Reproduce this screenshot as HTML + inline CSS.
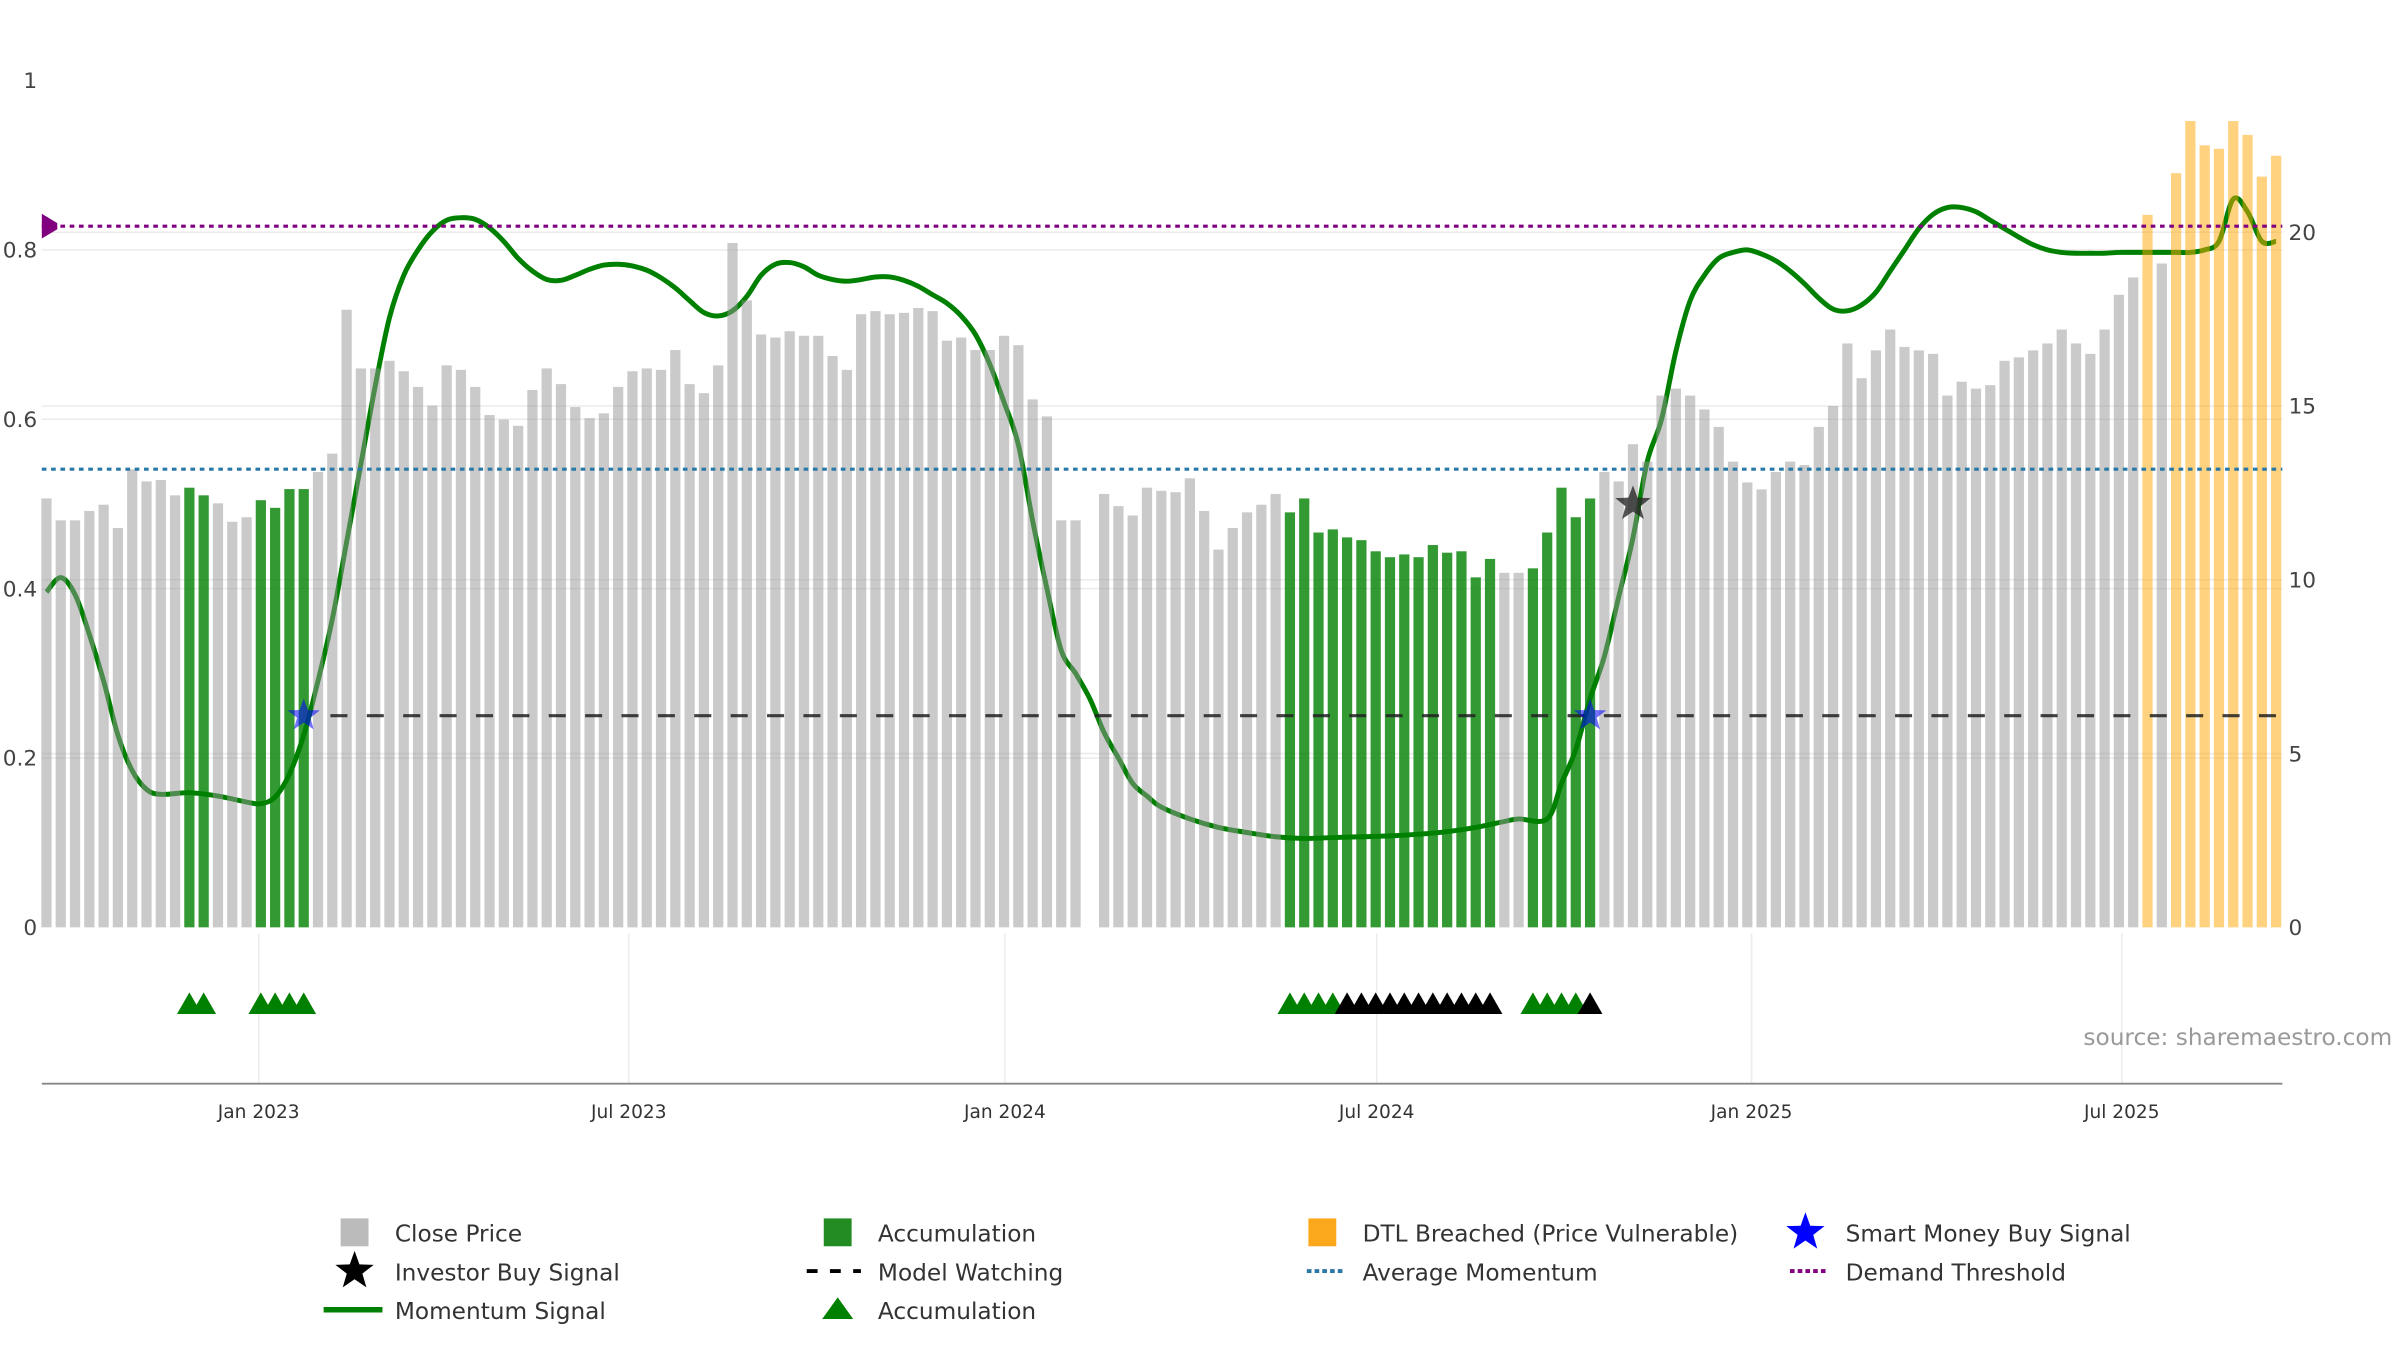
<!DOCTYPE html>
<html><head><meta charset="utf-8"><style>
html,body{margin:0;padding:0;background:#fff;}
svg{display:block;font-family:"DejaVu Sans","Liberation Sans",sans-serif;}
</style></head><body>
<svg id="chart" width="2400" height="1350" viewBox="0 0 1550 872" preserveAspectRatio="none" xmlns="http://www.w3.org/2000/svg">
<g id="grid"></g>
<g id="lineLayer"></g>
<g id="barLayer"></g>
<g id="refLayer"></g>
<g id="markLayer"></g>
<g id="axisLayer"></g>
<text x="1545" y="675" text-anchor="end" font-size="15" fill="#999">source: sharemaestro.com</text>
<g id="legend"></g>
</svg>
<script>
const prices=[12.34,11.71,11.71,11.98,12.16,11.49,13.18,12.83,12.87,12.43,
12.65,12.43,12.2,11.67,11.8,12.29,12.07,12.61,12.61,13.1,
13.63,17.77,16.08,16.08,16.3,16.0,15.55,15.01,16.17,16.04,
15.55,14.74,14.61,14.43,15.46,16.08,15.63,14.97,14.65,14.79,
15.55,16.0,16.08,16.04,16.61,15.63,15.37,16.17,19.69,18.04,
17.06,16.97,17.15,17.02,17.02,16.44,16.04,17.64,17.73,17.64,
17.68,17.82,17.73,16.88,16.97,16.61,16.61,17.02,16.75,15.19,
14.7,11.71,11.71,null,12.47,12.12,11.85,12.65,12.56,12.52,
12.92,11.98,10.87,11.49,11.94,12.16,12.47,11.94,12.34,11.36,
11.45,11.22,11.14,10.82,10.65,10.73,10.65,11.0,10.78,10.82,
10.07,10.6,10.2,10.2,10.33,11.36,12.65,11.8,12.34,13.1,
12.83,
13.9,13.4,15.3,15.5,15.3,14.9,14.4,13.4,12.8,12.6,13.1,13.4,13.3,14.4,15.0,16.8,15.8,16.6,17.2,16.7,16.6,16.5,15.3,15.7,15.5,15.6,16.3,16.4,16.6,16.8,17.2,16.8,16.5,17.2,18.2,18.7,20.5,19.1,21.7,23.2,22.5,22.4,23.2,22.8,21.6,22.2];
const accumIdx=[10,11,15,16,17,18,87,88,89,90,91,92,93,94,95,96,97,98,99,100,101,104,105,106,107,108];
const dtlIdx=[147,149,150,151,152,153,154,155,156];
const triGreenIdx=[10,11,15,16,17,18,87,88,89,90,104,105,106,107];
const triBlackIdx=[91,92,93,94,95,96,97,98,99,100,101,108];
const momIdx=[0,1,2,3,4,5,6,7,8,10,12,14,15,16,17,18,19,20,21,22,23,24,25,26,27,28,29,30,31,32,33,34,35,36,37,38,39,40,41,42,43,44,45,46,47,48,49,50,51,52,53,54,55,56,57,58,59,60,61,62,63,64,65,66,67,68,69,70,71,72,73,74,75,76,77,78,80,82,84,86,88,90,92,94,96,98,100,102,103,105,106,107,108,109,110,111,112,113,114,115,116,117,118,119,120,121,122,123,124,125,126,127,128,129,130,131,132,133,134,135,136,137,138,139,140,141,142,143,144,145,146,147,148,149,150,151,152,153,154,155,156];
const momVal=[.396,.413,.393,.346,.291,.227,.185,.163,.157,.159,.155,.148,.146,.154,.181,.227,.291,.364,.455,.547,.639,.72,.77,.80,.822,.835,.838,.836,.826,.81,.79,.775,.765,.764,.77,.777,.782,.783,.781,.776,.767,.755,.74,.726,.722,.728,.745,.77,.783,.785,.78,.77,.765,.763,.765,.768,.768,.764,.757,.747,.737,.722,.70,.665,.62,.57,.48,.40,.327,.30,.27,.23,.20,.17,.155,.142,.128,.118,.112,.107,.105,.106,.107,.108,.110,.113,.118,.125,.128,.128,.17,.21,.27,.32,.39,.46,.55,.60,.68,.74,.77,.79,.797,.8,.795,.787,.775,.76,.743,.73,.728,.735,.75,.775,.80,.825,.842,.85,.85,.845,.835,.825,.815,.806,.80,.797,.796,.796,.796,.797,.797,.797,.797,.797,.797,.80,.81,.86,.845,.81,.81];
const smartIdx=[18,108];
const smartVal=[0.25,0.25];
const investorIdx=[111];
const investorVal=[0.5];
const avgMomentum=0.541;
const demandThreshold=0.828;
const watchStartIdx=19;
const leftTicks=[0,0.2,0.4,0.6,0.8,1];
const leftTickLabels=["0","0.2","0.4","0.6","0.8","1"];
const rightTicks=[0,5,10,15,20];
const xTickPos=[14.85,40.74,67.06,93.07,119.3,145.2];
const xTickLabels=["Jan 2023","Jul 2023","Jan 2024","Jul 2024","Jan 2025","Jul 2025"];

const NS="http://www.w3.org/2000/svg";
const X0=27,X1=1474,Y0=599;
const N=prices.length;
function xOf(i){return 30+i*(1440/(N-1));}
function yL(v){return Y0-v*547;}
function yR(p){return Y0-p*22.45;}
function mk(tag,attrs,parent){const e=document.createElementNS(NS,tag);for(const k in attrs)e.setAttribute(k,attrs[k]);parent.appendChild(e);return e;}
const grid=document.getElementById('grid'),lineL=document.getElementById('lineLayer'),barL=document.getElementById('barLayer'),refL=document.getElementById('refLayer'),markL=document.getElementById('markLayer'),axL=document.getElementById('axisLayer'),leg=document.getElementById('legend');

// gridlines
leftTicks.forEach(function(t){if(t>0&&t<1){const l=mk('line',{x1:X0,x2:X1,y1:yL(t),y2:yL(t),stroke:'#ebebeb','stroke-width':1},grid);

}});
rightTicks.forEach(function(t){if(t>0){const l=mk('line',{x1:X0,x2:X1,y1:yR(t),y2:yR(t),stroke:'#ebebeb','stroke-width':1},grid);

}});
xTickPos.forEach(function(p){const l=mk('line',{x1:xOf(p),x2:xOf(p),y1:603,y2:700,stroke:'#ececec','stroke-width':1},grid);

});

// momentum line (catmull-rom)
(function(){const pts=momIdx.map(function(i,k){return [xOf(i),yL(momVal[k])];});
let d='M'+pts[0][0]+','+pts[0][1];
for(let k=0;k<pts.length-1;k++){const p0=pts[Math.max(0,k-1)],p1=pts[k],p2=pts[k+1],p3=pts[Math.min(pts.length-1,k+2)];
d+=' C'+(p1[0]+(p2[0]-p0[0])/6)+','+(p1[1]+(p2[1]-p0[1])/6)+' '+(p2[0]-(p3[0]-p1[0])/6)+','+(p2[1]-(p3[1]-p1[1])/6)+' '+p2[0]+','+p2[1];}
const l=mk('path',{d:d,fill:'none',stroke:'#008000','stroke-width':3.2,'stroke-linejoin':'round'},lineL);

})();

// bars
const bw=6.6;
prices.forEach(function(p,i){if(p===null)return;
let fill='rgba(150,150,150,0.5)',name='close-price-bar';
if(accumIdx.indexOf(i)>=0){fill='rgba(0,128,0,0.8)';name='accumulation-bar';}
if(dtlIdx.indexOf(i)>=0){fill='rgba(255,165,0,0.5)';name='dtl-breached-bar';}
const r=mk('rect',{x:xOf(i)-bw/2,y:yR(p),width:bw,height:Y0-yR(p),fill:fill},barL);

});

// reference lines
(function(){
let l=mk('line',{x1:X0,x2:X1,y1:yL(demandThreshold),y2:yL(demandThreshold),stroke:'#800080','stroke-width':2,'stroke-dasharray':'3,3'},refL);


l=mk('path',{d:'M27,'+(yL(demandThreshold)-8)+' L37,'+(yL(demandThreshold)-2)+' L37,'+(yL(demandThreshold)+2)+' L27,'+(yL(demandThreshold)+8)+' Z',fill:'#800080'},refL);


l=mk('line',{x1:X0,x2:X1,y1:yL(avgMomentum),y2:yL(avgMomentum),stroke:'#2a78a8','stroke-width':2,'stroke-dasharray':'3,3'},refL);


l=mk('line',{x1:xOf(watchStartIdx)+8,x2:X1,y1:yL(0.25),y2:yL(0.25),stroke:'#222','stroke-width':2,'stroke-dasharray':'11,12.5','opacity':0.85},refL);

})();

function starPath(cx,cy,R,r){let d='';for(let k=0;k<10;k++){const a=-Math.PI/2+k*Math.PI/5,rad=k%2?r:R;d+=(k?'L':'M')+(cx+rad*Math.cos(a)).toFixed(2)+','+(cy+rad*Math.sin(a)).toFixed(2);}return d+'Z';}
smartIdx.forEach(function(i,k){const s=mk('path',{d:starPath(xOf(i),yL(smartVal[k]),11,4.5),fill:'rgba(0,0,255,0.55)'},markL);

});
investorIdx.forEach(function(i,k){const s=mk('path',{d:starPath(xOf(i),yL(investorVal[k]),12,5),fill:'rgba(40,40,40,0.8)'},markL);

});
function tri(i,color,name){const cx=xOf(i),cy=648;const t=mk('path',{d:'M'+(cx-8)+','+(cy+7)+' L'+cx+','+(cy-7)+' L'+(cx+8)+','+(cy+7)+' Z',fill:color},markL);

}
triGreenIdx.forEach(function(i){tri(i,'#008000','accumulation-triangle');});
triBlackIdx.forEach(function(i){tri(i,'#000','accumulation-triangle-dark');});

// axes
(function(){let l=mk('line',{x1:X0,x2:X1,y1:700,y2:700,stroke:'#888','stroke-width':1.2},axL);


leftTicks.forEach(function(t,k){const tx=mk('text',{x:24,y:yL(t)+5,'text-anchor':'end','font-size':14,fill:'#444'},axL);tx.textContent=leftTickLabels[k];

});
rightTicks.forEach(function(t){const tx=mk('text',{x:1478,y:yR(t)+5,'font-size':14,fill:'#444'},axL);tx.textContent=String(t);

});
xTickPos.forEach(function(p,k){const tx=mk('text',{x:xOf(p),y:722,'text-anchor':'middle','font-size':12,fill:'#333'},axL);tx.textContent=xTickLabels[k];

});})();

// legend
const legItems=[
['Close Price',219,796,'sq','#bbbbbb'],['Accumulation',531,796,'sq','#228b22'],['DTL Breached (Price Vulnerable)',844,796,'sq','#fba81c'],['Smart Money Buy Signal',1156,796,'star','#0000ff'],
['Investor Buy Signal',219,821,'star','#000'],['Model Watching',531,821,'dash','#000'],['Average Momentum',844,821,'dot','#2a78a8'],['Demand Threshold',1156,821,'dot','#800080'],
['Momentum Signal',219,846,'line','#008000'],['Accumulation',531,846,'tri','#008000']];
legItems.forEach(function(it){const g=mk('g',{},leg);


const cx=it[1]+10,cy=it[2];
if(it[3]==='sq')mk('rect',{x:cx-9,y:cy-9,width:18,height:18,fill:it[4]},g);
else if(it[3]==='star')mk('path',{d:starPath(cx,cy,13,5.3),fill:it[4]},g);
else if(it[3]==='dash')mk('line',{x1:cx-20,x2:cx+15,y1:cy,y2:cy,stroke:it[4],'stroke-width':2.5,'stroke-dasharray':'7,8'},g);
else if(it[3]==='dot')mk('line',{x1:cx-10,x2:cx+15,y1:cy,y2:cy,stroke:it[4],'stroke-width':2.5,'stroke-dasharray':'3,2'},g);
else if(it[3]==='line')mk('line',{x1:cx-20,x2:cx+18,y1:cy,y2:cy,stroke:it[4],'stroke-width':3.5},g);
else if(it[3]==='tri')mk('path',{d:'M'+(cx-10)+','+(cy+6)+' L'+cx+','+(cy-8)+' L'+(cx+10)+','+(cy+6)+' Z',fill:it[4]},g);
const tx=mk('text',{x:it[1]+36,y:it[2]+6,'font-size':15,fill:'#333'},g);tx.textContent=it[0];});
</script>
</body></html>
